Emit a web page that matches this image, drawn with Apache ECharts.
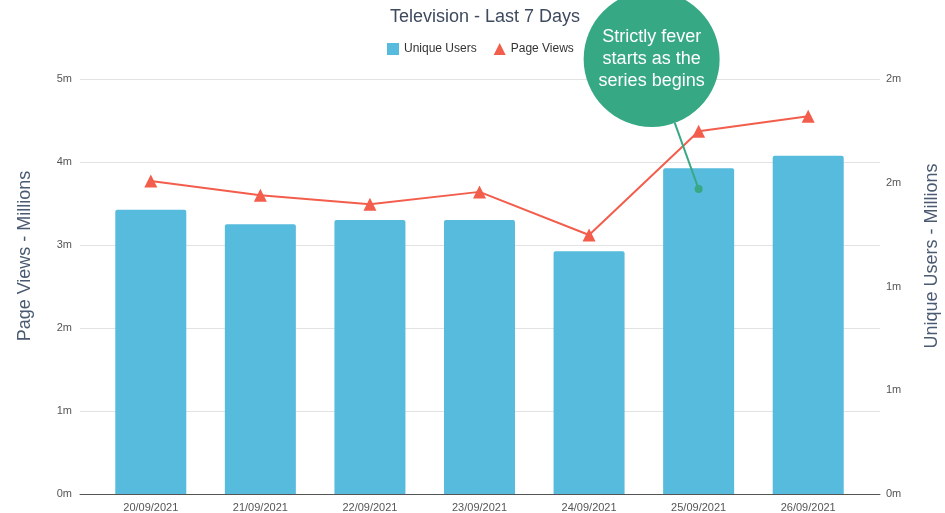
<!DOCTYPE html>
<html>
<head>
<meta charset="utf-8">
<script src="https://cdn.jsdelivr.net/npm/echarts@6/dist/echarts.min.js"></script>
<style>html,body{margin:0;padding:0;background:#fff}#c{width:945px;height:513px}</style>
</head>
<body>
<div id="c"></div>
<script>
var categories = ['20/09/2021','21/09/2021','22/09/2021','23/09/2021','24/09/2021','25/09/2021','26/09/2021'];
var uniqueUsers = [1.37, 1.30, 1.32, 1.32, 1.17, 1.57, 1.63];
var pageViews = [3.77, 3.60, 3.49, 3.64, 3.12, 4.37, 4.55];
var leftTicks = {min: 0, max: 5, interval: 1};
var rightTicks = {min: 0, max: 2, interval: 0.5};
var annotationText = 'Strictly fever\nstarts as the\nseries begins';
var annotationCategory = '25/09/2021';
var annotationValue = 1.47;

var FONT = '"Liberation Sans", Arial, Helvetica, sans-serif';
var chart = echarts.init(document.getElementById('c'));
chart.setOption({
  animation: false,
  textStyle: {fontFamily: FONT},
  title: {
    text: 'Television - Last 7 Days', left: 480, textAlign: 'center', top: 3,
    textStyle: {fontSize: 18, fontWeight: 'normal', color: '#3e4a5e', fontFamily: FONT}
  },
  legend: {
    left: 382, top: 38, itemWidth: 12, itemHeight: 12, itemGap: 17,
    textStyle: {fontSize: 12, color: '#333', fontFamily: FONT},
    data: [{name: 'Unique Users', icon: 'rect'}, {name: 'Page Views', icon: 'triangle'}]
  },
  grid: [
    {left: 80, right: 65, top: 79, bottom: 19},
    {left: 96, right: 82, top: 79, bottom: 19}
  ],
  xAxis: [
    {type: 'category', gridIndex: 0, data: categories,
     axisLine: {lineStyle: {color: '#555', width: 1}}, axisTick: {show: false}, axisLabel: {show: false}},
    {type: 'category', gridIndex: 1, data: categories,
     axisLine: {show: false}, axisTick: {show: false},
     axisLabel: {color: '#555', fontSize: 11, margin: 8, fontFamily: FONT}}
  ],
  yAxis: [
    {type: 'value', gridIndex: 0, position: 'left', min: leftTicks.min, max: leftTicks.max, interval: leftTicks.interval,
     axisLine: {show: false}, axisTick: {show: false},
     axisLabel: {color: '#555', fontSize: 11, margin: 8, formatter: function (v) { return v + 'm'; }},
     splitLine: {lineStyle: {color: '#e2e2e2', width: 1}}},
    {type: 'value', gridIndex: 0, position: 'right', min: rightTicks.min, max: rightTicks.max, interval: rightTicks.interval,
     axisLine: {show: false}, axisTick: {show: false},
     axisLabel: {color: '#555', fontSize: 11, margin: 6, formatter: function (v) { return Math.round(v) + 'm'; }},
     splitLine: {show: false}},
    {type: 'value', gridIndex: 1, min: leftTicks.min, max: leftTicks.max, show: false, splitLine: {show: false}},
    {type: 'value', gridIndex: 1, min: rightTicks.min, max: rightTicks.max, show: false, splitLine: {show: false}}
  ],
  series: [
    {name: 'Unique Users', type: 'bar', xAxisIndex: 1, yAxisIndex: 3, data: uniqueUsers,
     barWidth: 71, itemStyle: {color: '#56bbdc', borderRadius: [2, 2, 0, 0]}},
    {name: 'Page Views', type: 'line', xAxisIndex: 1, yAxisIndex: 2, data: pageViews,
     symbol: 'triangle', symbolSize: 13, lineStyle: {color: '#f35d4c', width: 2},
     itemStyle: {color: '#f35d4c'}, z: 5}
  ]
});

var p = chart.convertToPixel({xAxisIndex: 1, yAxisIndex: 3}, [annotationCategory, annotationValue]);
var cx = p[0] - 47, cy = p[1] - 130, r = 68;
var dx = p[0] - cx, dy = p[1] - cy, len = Math.sqrt(dx * dx + dy * dy);
chart.setOption({
  graphic: [
    {type: 'text', x: 25, y: 256, rotation: Math.PI / 2,
     style: {text: 'Page Views - Millions', fill: '#4a5a72', font: '18px ' + FONT, textAlign: 'center', textVerticalAlign: 'middle'}},
    {type: 'text', x: 932, y: 256, rotation: Math.PI / 2,
     style: {text: 'Unique Users - Millions', fill: '#4a5a72', font: '18px ' + FONT, textAlign: 'center', textVerticalAlign: 'middle'}},
    {type: 'line', z: 100, shape: {x1: cx + dx / len * r, y1: cy + dy / len * r, x2: p[0], y2: p[1]},
     style: {stroke: '#36a884', lineWidth: 2}},
    {type: 'circle', z: 100, shape: {cx: p[0], cy: p[1], r: 4}, style: {fill: '#36a884'}},
    {type: 'circle', z: 100, shape: {cx: cx, cy: cy, r: r}, style: {fill: '#36a884'}},
    {type: 'text', z: 101, x: cx, y: cy,
     style: {text: annotationText, fill: '#ffffff', font: '18px ' + FONT, lineHeight: 22, textAlign: 'center', textVerticalAlign: 'middle'}}
  ]
});
</script>
</body>
</html>
